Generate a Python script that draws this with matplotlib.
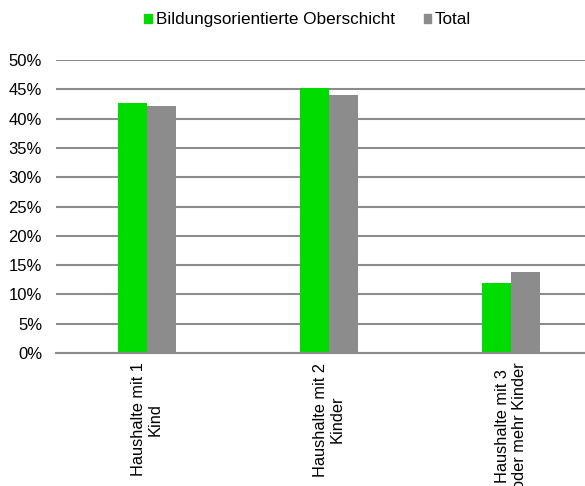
import matplotlib.pyplot as plt
import numpy as np
from matplotlib.patches import Patch

plt.rcParams['font.family'] = ['Liberation Sans', 'DejaVu Sans']

# Data
categories = ["Haushalte mit 1\nKind", "Haushalte mit 2\nKinder", "Haushalte mit 3\noder mehr Kinder"]
series_names = ["Bildungsorientierte Oberschicht", "Total"]
oberschicht = [0.427, 0.453, 0.120]
total = [0.421, 0.440, 0.139]
yticks = [0.0, 0.05, 0.10, 0.15, 0.20, 0.25, 0.30, 0.35, 0.40, 0.45, 0.50]

green = '#00DC00'
gray = '#8C8C8C'
grid_col = '#8C8C8C'

fig = plt.figure(figsize=(5.85, 4.86), dpi=100)
ax = fig.add_axes([56 / 585, 1 - 353 / 486, (585 - 56) / 585, (353 - 60) / 486])

x = np.arange(len(categories))
w = 0.162
ax.bar(x - w / 2, oberschicht, width=w, color=green, zorder=3)
ax.bar(x + w / 2, total, width=w, color=gray, zorder=3)

ax.set_xlim(-0.5, 2.5 - 17 / 182)
ax.set_ylim(0, 0.5)
ax.set_yticks(yticks)
ax.set_yticklabels([f"{int(round(t * 100))}%" for t in yticks], fontsize=12)
ax.yaxis.grid(True, color=grid_col, linewidth=1.5, zorder=0)
ax.tick_params(axis='y', length=0, pad=10)
ax.tick_params(axis='x', length=0, pad=7)

ax.set_xticks(x)
ax.set_xticklabels(categories, rotation=90, ha='center', va='top',
                   multialignment='center', fontsize=11.8, linespacing=1.1)

for s in ['top', 'right', 'left']:
    ax.spines[s].set_visible(False)
ax.spines['bottom'].set_color(grid_col)
ax.spines['bottom'].set_linewidth(1.5)
ax.spines['bottom'].set_zorder(4)

handles = [Patch(color=green, label=series_names[0]), Patch(color=gray, label=series_names[1])]
fig.legend(handles=handles, loc='center', bbox_to_anchor=(0.526, 0.959), ncol=2,
           frameon=False, fontsize=12.3, handlelength=0.45, handleheight=0.45,
           handletextpad=0.2, columnspacing=1.7)

fig.savefig('out.png', dpi=100)
